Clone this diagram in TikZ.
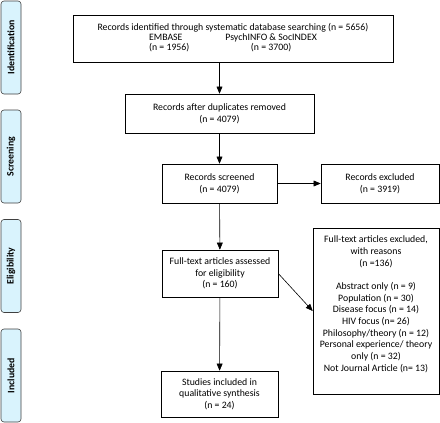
\documentclass[tikz,border=0pt]{standalone}
\usepackage{fontspec}
\setmainfont{Carlito}
\usetikzlibrary{arrows,positioning,shapes}

\tikzset{
  box/.style={draw,rectangle,align=center,inner sep=2pt,line width=0.6pt,
    font=\fontsize{9.8}{11.7}\selectfont},
  phase/.style={draw=black!75,fill=cyan!15!white,rounded corners=3pt,rotate=90,
    minimum width=93pt,minimum height=20pt,line width=0.6pt,
    font=\fontsize{9.8}{11}\selectfont\bfseries},
  arr/.style={-triangle 45,line width=0.6pt}
}

\begin{document}
\begin{tikzpicture}[x=1pt,y=-1pt]
\useasboundingbox (0,0) rectangle (440,423);
% phases
\node[phase] (ident) at (11,47.5) {Identification};
\node[phase] (screen) at (11,156.5) {Screening};
\node[phase] (elig) at (11,266) {Eligibility};
\node[phase] (incl) at (11,375.5) {Included};
% boxes
\node[box,minimum width=320pt,minimum height=47pt] (found) at (233,38.5) {Records identified through systematic database searching (n = 5656)\\[-1pt]
\begin{tabular}{@{}l@{\hspace{36pt}}c@{}}EMBASE & PsychINFO \& SocINDEX\\[-2pt] (n = 1956) & (n = 3700)\end{tabular}\hspace{-6pt}};
\node[box,minimum width=189pt,minimum height=39pt] (dupl) at (219.5,113.5) {Records after duplicates removed\\(n = 4079)};
\node[box,minimum width=115pt,minimum height=39pt] (scr) at (219.5,183.5) {Records screened\\(n = 4079)};
\node[box,minimum width=118pt,minimum height=39pt] (scrout) at (380,183.5) {Records excluded\\(n = 3919)};
\node[box,minimum width=116pt,minimum height=47pt] (full) at (220,273.5) {Full-text articles assessed\\for eligibility\\(n = 160)};
\node[box,minimum width=126pt,minimum height=166pt] (fullout) at (376,311) {Full-text articles excluded,\\with reasons\\(n =136)\\[11.5pt]
Abstract only (n = 9)\\Population (n = 30)\\Disease focus (n = 14)\\HIV focus (n= 26)\\Philosophy/theory (n = 12)\\Personal experience/ theory\\only (n = 32)\\Not Journal Article (n= 13)\\[3pt]};
\node[box,minimum width=117pt,minimum height=46pt] (study) at (219.5,394) {Studies included in\\qualitative synthesis\\(n = 24)};
% arrows
\draw[arr] (dupl.north |- found.south) -- (dupl.north);
\draw[arr] (dupl) -- (scr);
\draw[arr] (scr) -- (scrout);
\draw[arr] (scr) -- (full);
\draw[arr] (full.east) -- (fullout.west);
\draw[arr] (full) -- (study);
\end{tikzpicture}
\end{document}
